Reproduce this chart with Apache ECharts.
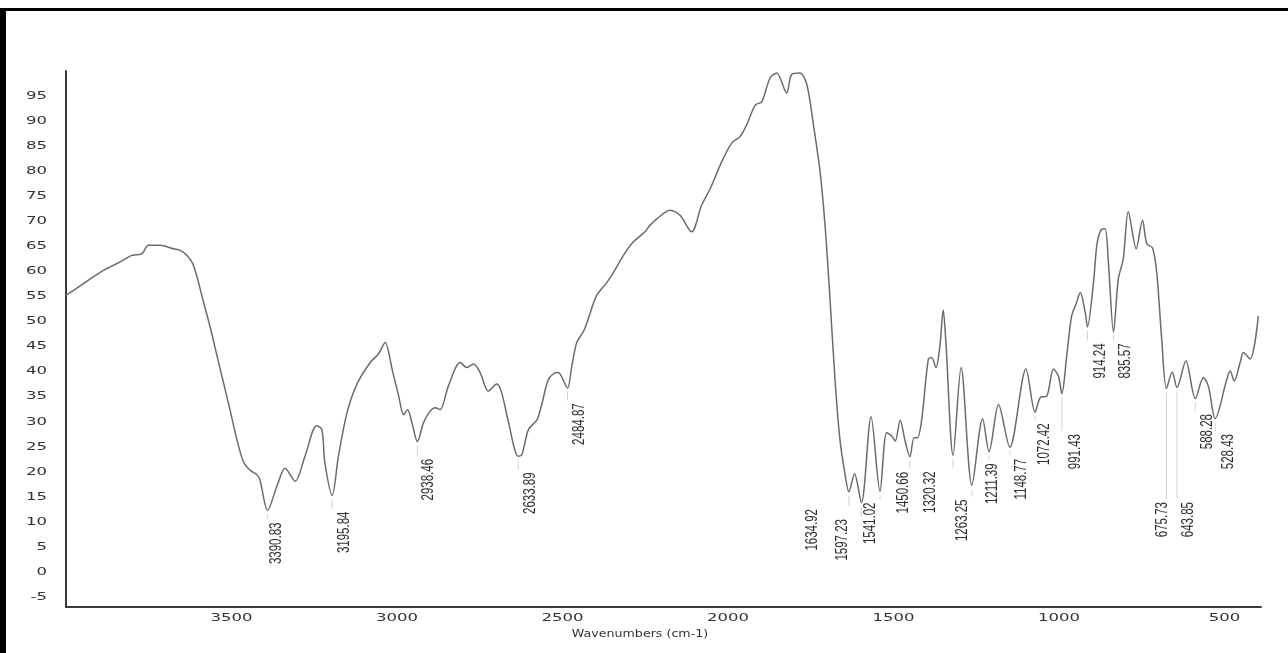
<!DOCTYPE html>
<html>
<head>
<meta charset="utf-8">
<script src="https://cdn.jsdelivr.net/npm/echarts@6/dist/echarts.min.js"></script>
<style>
  html, body { margin: 0; padding: 0; background: #fff; }
  #chart { width: 1288px; height: 653px; }
</style>
</head>
<body>
<div id="chart"></div>
<script>
// IR spectrum: wavenumber (cm-1) against %T
const wavenumber = [
  4000, 3942, 3887, 3836, 3801, 3771, 3751, 3715, 3675, 3655, 3635, 3615, 3585, 3565, 3545, 3525, 3505, 3484, 3464, 3444,
  3425, 3415, 3390.83, 3363, 3338, 3308, 3278, 3243, 3227, 3218, 3195.84, 3177, 3151, 3121, 3081, 3056, 3036, 3015, 2995, 2980, 2968,
  2955, 2938.46, 2920, 2900, 2885, 2870, 2845, 2809, 2789, 2769, 2749, 2724, 2699, 2684, 2663, 2633.89, 2623, 2603, 2577, 2563,
  2542, 2517, 2507, 2484.87, 2472, 2457, 2436, 2425, 2397, 2366, 2346, 2316, 2286, 2251, 2236, 2215, 2175, 2145, 2110, 2080,
  2054, 2019, 1989, 1964, 1944, 1918, 1898, 1873, 1853, 1823, 1808, 1783, 1762, 1742, 1722, 1707, 1692, 1677, 1662, 1647,
  1634.92, 1618, 1597.23, 1568, 1541.02, 1521, 1505, 1495, 1480, 1465, 1450.66, 1438, 1428, 1415, 1395, 1385, 1372, 1360, 1350, 1342,
  1320.32, 1296, 1263.25, 1231, 1211.39, 1183, 1148.77, 1100, 1072.42, 1057, 1037, 1017, 1002, 991.43, 977, 962, 947, 936, 921, 914.24,
  896, 886, 874, 861, 851, 835.57, 821, 806, 791, 767, 748, 735, 718, 705, 690, 675.73, 658, 643.85, 617, 588.28,
  564, 549, 528.43, 493, 483, 471, 453, 443, 423, 398
];
const transmittance = [
  55.2, 57.8, 60.2, 61.9, 63.2, 63.5, 65.2, 65.2, 64.5, 64.2, 63.2, 61.2, 54.0, 49.0, 43.5, 38.0, 32.5, 26.5, 22.0, 20.3,
  19.5, 18.6, 12.3, 17.1, 20.7, 18.1, 23.1, 29.2, 28.4, 21.8, 15.3, 23.1, 31.8, 37.5, 41.8, 43.5, 45.8, 40.5, 35.1, 31.4, 32.4,
  29.8, 26.0, 29.8, 32.1, 32.8, 32.4, 37.1, 41.8, 40.8, 41.5, 39.8, 36.1, 37.5, 35.8, 29.8, 23.1, 23.4, 28.4, 30.4, 33.4,
  38.5, 39.8, 39.5, 36.7, 41.1, 45.8, 48.1, 50.0, 55.2, 57.8, 59.8, 63.2, 65.9, 67.9, 69.2, 70.5, 72.2, 71.2, 67.9, 73.2,
  76.5, 81.9, 85.6, 86.9, 89.2, 93.2, 93.9, 98.6, 99.6, 95.6, 99.3, 99.6, 97.3, 89.2, 79.9, 69.2, 54.5, 38.5, 26.4, 19.7,
  16.0, 19.6, 13.8, 31.0, 16.1, 27.8, 27.1, 26.1, 30.3, 26.1, 23.0, 26.8, 26.8, 30.4, 42.5, 42.8, 40.8, 45.1, 52.3, 46.0,
  23.3, 40.8, 17.3, 30.6, 24.0, 33.4, 24.9, 40.5, 31.9, 34.8, 35.1, 40.5, 39.1, 35.6, 43.1, 51.1, 53.8, 55.8, 51.8, 48.9,
  57.8, 65.2, 68.2, 68.5, 61.8, 47.9, 58.5, 62.5, 71.9, 64.5, 70.2, 65.5, 64.7, 59.8, 46.5, 36.6, 39.9, 36.8, 42.1, 34.6,
  38.8, 37.1, 30.6, 38.5, 40.1, 38.1, 41.8, 43.8, 42.5, 51.1
];

// marked absorption minima
const peakWavenumbers = [
  3390.83, 3195.84, 2938.46, 2633.89, 2484.87, 1634.92, 1597.23, 1541.02, 1450.66, 1320.32, 1263.25,
  1211.39, 1148.77, 1072.42, 991.43, 914.24, 835.57, 675.73, 643.85, 588.28, 528.43
];

const xTickValues = [3500, 3000, 2500, 2000, 1500, 1000, 500];
const yTickValues = [-5, 0, 5, 10, 15, 20, 25, 30, 35, 40, 45, 50, 55, 60, 65, 70, 75, 80, 85, 90, 95];
const xAxisTitle = 'Wavenumbers (cm-1)';

// pixel shift [dx, dy] of each peak label centre from its minimum
const peakLabelShift = [
  [9, 33], [12, 37], [11, 38], [12, 37], [12, 36], [-37, 38], [-19, 37], [-10, 32], [-7, 36], [-23, 37], [-10, 35],
  [3, 32], [11, 32], [9, 32], [13, 58], [13, 34], [12, 29], [-4, 131], [11, 132], [12, 33], [13, 33]
];

const X_MIN = 390, X_MAX = 4000, Y_MIN = -7, Y_MAX = 100;
const STRETCH = 1.5;               // glyphs on this plot are drawn wide
const TEXT_COLOR = '#333';

const spectrum = wavenumber.map((w, i) => [w, transmittance[i]]);
const peakPoints = peakWavenumbers.map((w, i) => [w, transmittance[wavenumber.indexOf(w)], i]);

const chart = echarts.init(document.getElementById('chart'), null, { renderer: 'canvas' });

chart.setOption({
  animation: false,
  backgroundColor: '#ffffff',
  grid: { left: 66, right: 27, top: 71, bottom: 46, containLabel: false },
  xAxis: {
    type: 'value', inverse: true, min: X_MIN, max: X_MAX,
    axisLine: { show: true, onZero: false, lineStyle: { color: '#3a3a3a', width: 2 } },
    axisTick: { show: false }, axisLabel: { show: false }, splitLine: { show: false }
  },
  yAxis: {
    type: 'value', min: Y_MIN, max: Y_MAX,
    axisLine: { show: true, onZero: false, lineStyle: { color: '#3a3a3a', width: 2 } },
    axisTick: { show: false }, axisLabel: { show: false }, splitLine: { show: false }
  },
  graphic: [
    { type: 'rect', shape: { x: 0, y: 8, width: 1288, height: 3 }, style: { fill: '#000' } },
    { type: 'rect', shape: { x: 0, y: 8, width: 6, height: 645 }, style: { fill: '#000' } },
    {
      type: 'text', x: 640, y: 634, scaleX: 1.15,
      style: { text: xAxisTitle, fill: TEXT_COLOR, font: '11px "DejaVu Sans"', align: 'center', verticalAlign: 'middle' }
    }
  ],
  series: [
    {
      type: 'line', data: spectrum, showSymbol: false, symbol: 'none', smooth: 0.3,
      lineStyle: { color: '#6b6b6b', width: 1.5 }, silent: true, z: 3
    },
    {
      // y tick labels
      type: 'custom', coordinateSystem: 'cartesian2d', clip: false, silent: true,
      data: yTickValues.map(v => [X_MAX, v]), encode: { x: 0, y: 1 },
      renderItem(params, api) {
        const p = api.coord([api.value(0), api.value(1)]);
        return {
          type: 'text', x: p[0] - 19, y: p[1], scaleX: STRETCH,
          style: { text: String(api.value(1)), fill: TEXT_COLOR, font: '11px "DejaVu Sans"', align: 'right', verticalAlign: 'middle' }
        };
      }
    },
    {
      // x tick labels
      type: 'custom', coordinateSystem: 'cartesian2d', clip: false, silent: true,
      data: xTickValues.map(v => [v, Y_MIN]), encode: { x: 0, y: 1 },
      renderItem(params, api) {
        const p = api.coord([api.value(0), api.value(1)]);
        return {
          type: 'text', x: p[0], y: p[1] + 11, scaleX: STRETCH,
          style: { text: String(api.value(0)), fill: TEXT_COLOR, font: '11px "DejaVu Sans"', align: 'center', verticalAlign: 'middle' }
        };
      }
    },
    {
      // peak labels with leader lines
      type: 'custom', coordinateSystem: 'cartesian2d', clip: false, silent: true,
      data: peakPoints, encode: { x: 0, y: 1 },
      renderItem(params, api) {
        const w = api.value(0);
        const idx = api.value(2);
        const p = api.coord([w, api.value(1)]);
        const s = peakLabelShift[idx];
        const text = w.toFixed(2);
        const half = text.length * 3.1;
        const cx = p[0] + s[0], cy = p[1] + s[1];
        const lineEnd = cy - half - 2;
        const children = [];
        if (lineEnd > p[1] + 6) {
          children.push({
            type: 'line',
            shape: { x1: p[0], y1: p[1] + 4, x2: p[0], y2: lineEnd },
            style: { stroke: '#d2d2d2', lineWidth: 1 }
          });
        }
        children.push({
          type: 'text', x: cx, y: cy, rotation: Math.PI / 2, scaleY: STRETCH,
          style: { text, fill: '#2e2e2e', font: '11.5px "Liberation Sans"', align: 'center', verticalAlign: 'middle' }
        });
        return { type: 'group', children };
      }
    }
  ]
});
</script>
</body>
</html>
